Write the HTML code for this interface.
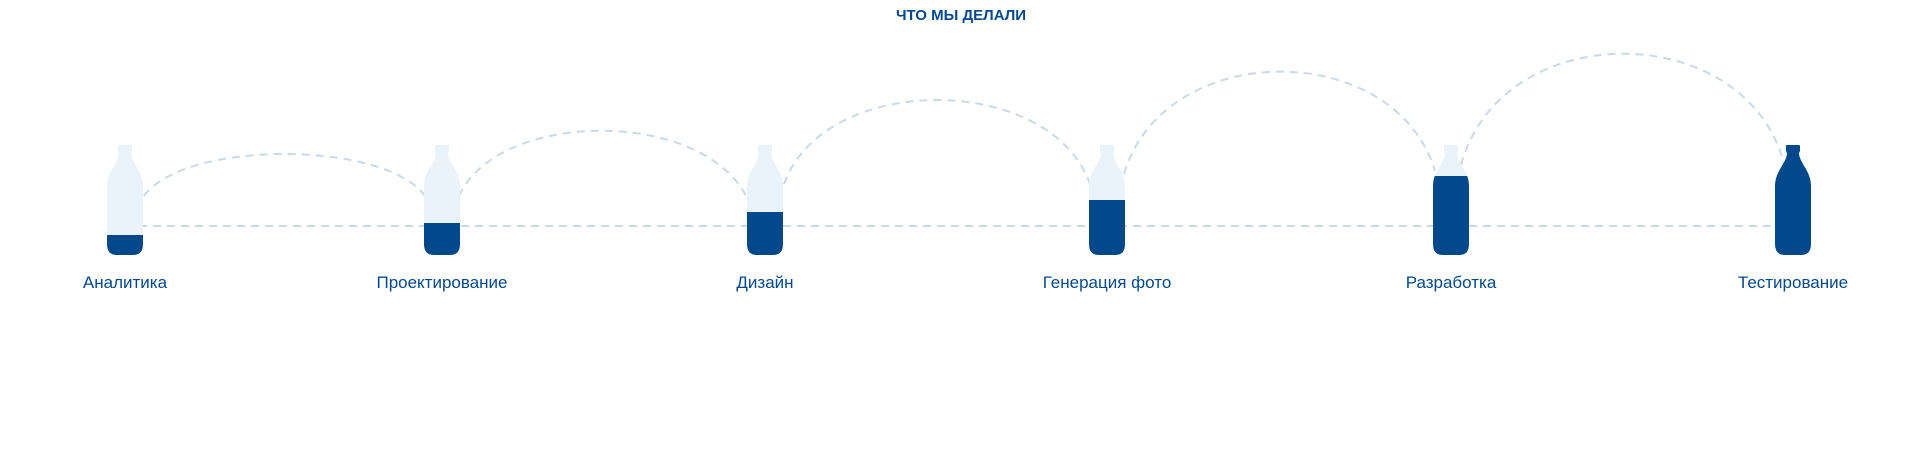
<!DOCTYPE html>
<html><head><meta charset="utf-8"><style>
html,body{margin:0;padding:0;background:#fff;width:1920px;height:463px;overflow:hidden}
svg{display:block}
text{font-family:"Liberation Sans",sans-serif;fill:#03488A}
</style></head><body>
<svg width="1920" height="463" viewBox="0 0 1920 463" xmlns="http://www.w3.org/2000/svg">
<defs>
<path id="b" d="M11,1 Q11,0 12,0 H24 Q25,0 25,1 V6 L24,8 C24,14 29,20 32,26 C35,32 36,36 36,42 V99 Q36,110 26,110 H10 Q0,110 0,99 V42 C0,36 1,32 4,26 C7,20 12,14 12,8 L11,6 Z"/>
<clipPath id="c"><use href="#b"/></clipPath>
</defs>
<text x="961" y="20" text-anchor="middle" font-size="15" font-weight="bold">ЧТО МЫ ДЕЛАЛИ</text>
<g fill="none" stroke="#CAD9E9" stroke-width="2" stroke-dasharray="8 6">
<line x1="125" y1="226" x2="1793" y2="226"/>
<path d="M144,196 C184,140 385,140 425,196"/>
<path d="M459,196 C499,108 709,108 749,202"/>
<path d="M784,184 C824,72 1050,72 1090,184"/>
<path d="M1124,174 C1164,38 1395,38 1435,171"/>
<path d="M1461,165 C1501,17 1744,17 1784,163"/>
</g>
<g transform="translate(107,145)"><use href="#b" fill="#EAF2FA"/><rect clip-path="url(#c)" x="0" y="90" width="36" height="30" fill="#03488A"/></g>
<g transform="translate(424,145)"><use href="#b" fill="#EAF2FA"/><rect clip-path="url(#c)" x="0" y="78" width="36" height="40" fill="#03488A"/></g>
<g transform="translate(747,145)"><use href="#b" fill="#EAF2FA"/><rect clip-path="url(#c)" x="0" y="67" width="36" height="50" fill="#03488A"/></g>
<g transform="translate(1089,145)"><use href="#b" fill="#EAF2FA"/><rect clip-path="url(#c)" x="0" y="55" width="36" height="60" fill="#03488A"/></g>
<g transform="translate(1433,145)"><use href="#b" fill="#EAF2FA"/><rect clip-path="url(#c)" x="0" y="31" width="36" height="90" fill="#03488A"/></g>
<g transform="translate(1775,145)"><use href="#b" fill="#03488A"/></g>
<g font-size="17" text-anchor="middle">
<text x="125" y="288">Аналитика</text>
<text x="442" y="288">Проектирование</text>
<text x="765" y="288">Дизайн</text>
<text x="1107" y="288">Генерация фото</text>
<text x="1451" y="288">Разработка</text>
<text x="1793" y="288">Тестирование</text>
</g>
</svg>
</body></html>
